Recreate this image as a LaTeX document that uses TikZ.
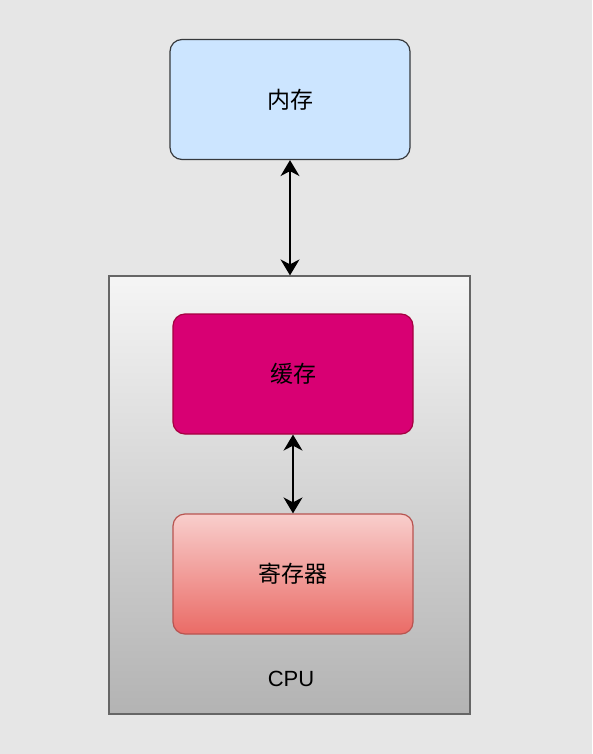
\documentclass[tikz,border=0pt]{standalone}
\usepackage{fontspec}
\setmainfont{Liberation Sans}
\newfontfamily\cjk{Noto Sans CJK SC}
\usetikzlibrary{arrows.meta}
\definecolor{bgc}{HTML}{E6E6E6}
\definecolor{memfill}{HTML}{CCE5FF}
\definecolor{memline}{HTML}{36393D}
\definecolor{cputop}{HTML}{F5F5F5}
\definecolor{cpubot}{HTML}{B3B3B3}
\definecolor{cpuline}{HTML}{666666}
\definecolor{cachefill}{HTML}{D80073}
\definecolor{cacheline}{HTML}{A50040}
\definecolor{regtop}{HTML}{F8CECC}
\definecolor{regbot}{HTML}{EA6B66}
\definecolor{regline}{HTML}{B85450}
\tikzset{
  box/.style={rounded corners=12pt, line width=1.2pt, minimum width=240pt, minimum height=120pt, inner sep=0pt, font=\fontsize{23}{26}\selectfont\cjk, text=black},
  link/.style={line width=1.8pt, {Stealth[length=16pt,width=19pt,inset=5pt]}-{Stealth[length=16pt,width=19pt,inset=5pt]}},
}
\begin{document}
\begin{tikzpicture}[x=1pt,y=-1pt]
\fill[bgc] (0,0) rectangle (592,754);
\useasboundingbox (0,0) rectangle (592,754);
\node[draw=cpuline, line width=1.2pt, top color=cputop, bottom color=cpubot, minimum width=361pt, minimum height=438pt, inner sep=0pt] (cpu) at (289.5,495) {};
\node[font=\fontsize{22}{25}\selectfont] (cpulbl) at (291,679) {CPU};
\node[box, draw=memline, fill=memfill] (mem) at (290,99.5) {内存};
\node[box, draw=cacheline, fill=cachefill] (cache) at (293,374) {缓存};
\node[box, draw=regline, top color=regtop, bottom color=regbot] (reg) at (293,574) {寄存器};
\draw[link] (mem.south) -- (mem.south |- cpu.north);
\draw[link] (cache.south) -- (reg.north);
\end{tikzpicture}
\end{document}
